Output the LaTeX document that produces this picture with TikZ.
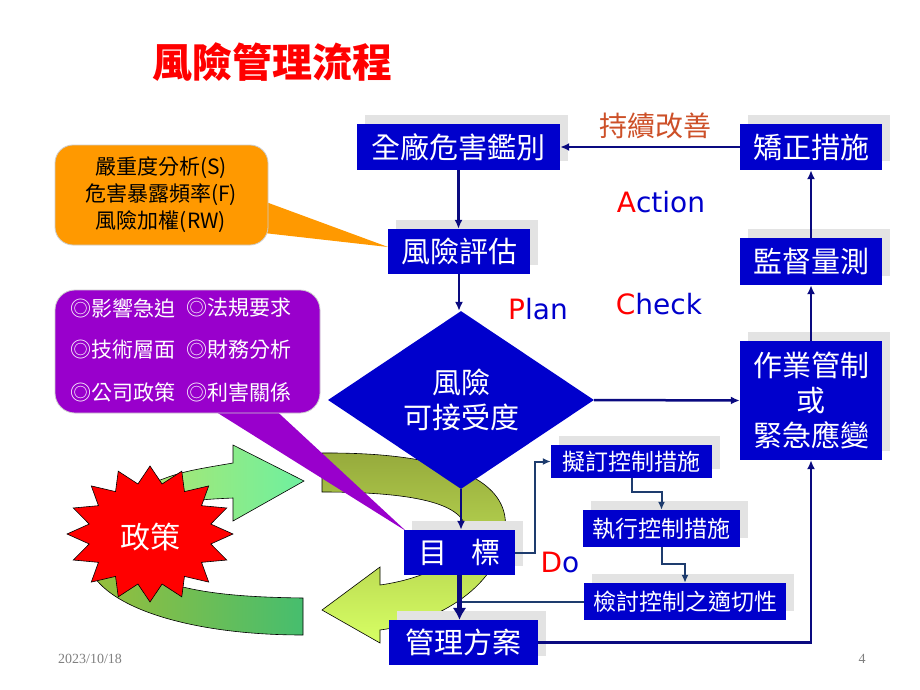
\documentclass[tikz,border=0pt]{standalone}
\usepackage{fontspec}
\newfontfamily\cjk{Noto Sans CJK TC}
\newfontfamily\lat{DejaVu Sans}
\newfontfamily\ser{Liberation Serif}
\usetikzlibrary{shapes.geometric,arrows.meta,shadows}
\definecolor{boxblue}{RGB}{0,0,204}
\definecolor{navy}{RGB}{10,10,128}
\definecolor{ctlblue}{RGB}{30,60,110}
\definecolor{orangeF}{RGB}{255,153,0}
\definecolor{purpleF}{RGB}{153,0,204}
\definecolor{rust}{RGB}{205,80,40}
\definecolor{pdred}{RGB}{255,0,0}
\definecolor{pdblue}{RGB}{0,0,204}
\definecolor{gMintL}{RGB}{175,230,110}
\definecolor{gMintR}{RGB}{110,240,160}
\definecolor{gOlive}{RGB}{150,170,60}
\definecolor{gMid}{RGB}{70,185,115}
\definecolor{gYel}{RGB}{215,255,100}
\definecolor{gLowL}{RGB}{150,190,60}
\definecolor{gLowR}{RGB}{70,190,110}
\begin{document}
\begin{tikzpicture}[x=1pt,y=-1pt,
  bbox/.style={fill=boxblue, text=white, inner sep=0pt, align=center,
    general shadow={fill=gray!22, shadow xshift=8pt, shadow yshift=9pt},
    font=\cjk\fontsize{29}{35}\selectfont},
  cbox/.style={bbox, font=\cjk\fontsize{23}{28}\selectfont},
  flow/.style={draw=navy, line width=2.5pt, -{Latex[length=9pt,width=8pt]}},
  thick flow/.style={draw=navy, line width=4.5pt, -{Latex[length=12pt,width=14pt]}},
  ctl/.style={draw=ctlblue, line width=2pt, -{Latex[length=8pt,width=7pt]}},
  ctlplain/.style={draw=ctlblue, line width=2pt},
  pdca/.style={font=\lat\fontsize{28}{32}\selectfont, text=pdblue},
  ctext/.style={font=\cjk\fontsize{21}{26}\selectfont, text=white, anchor=west, inner sep=0pt},
  otext/.style={font=\cjk\fontsize{21}{27}\selectfont, text=black, align=center, inner sep=0pt}
]
\useasboundingbox (0,0) rectangle (920,690);
\fill[white] (0,0) rectangle (920,690);

% title
\node (title) [font=\cjk\bfseries\fontsize{40}{44}\selectfont, text=red] at (272,62) {風險管理流程};

% green arrows
\shade[left color=gMintL, right color=gMintR, draw=black, line width=0.6pt]
  (140,488) .. controls (180,472) .. (233,463) -- (233,445) -- (304,481) -- (233,521)
  -- (233,498) .. controls (190,500) .. (150,518) -- cycle;
\shade[top color=gOlive, middle color=gMid, bottom color=gYel, draw=black, line width=0.6pt]
  (322,453) .. controls (470,452) and (510,490) .. (505,530)
  .. controls (500,585) and (440,622) .. (380,630) -- (380,643) -- (322,610) -- (380,567)
  -- (380,585) .. controls (430,578) and (468,556) .. (466,530)
  .. controls (464,505) and (420,492) .. (322,492) -- cycle;
\shade[left color=gLowL, right color=gLowR, draw=black, line width=0.6pt]
  (303,598) .. controls (230,597) and (170,592) .. (130,565)
  -- (95,578) .. controls (120,612) and (200,635) .. (303,635) -- cycle;

% star
\fill[red, draw=black, line width=0.6pt] plot[samples=33, domain=0:32]
  ({150+(83-21*mod(round(\x),2))*cos(\x*11.25)}, {534+(68-17*mod(round(\x),2))*sin(\x*11.25)}) -- cycle;
\node (policy) [font=\cjk\fontsize{30}{34}\selectfont, text=white] at (150,537) {政策};

% orange callout
\fill[orangeF] (255,198) -- (388,247) -- (255,232) -- cycle;
\fill[orangeF, draw=gray!40, line width=0.8pt, rounded corners=18pt] (55,145) rectangle (268,245);
\node (oc) [otext] at (161,195) {嚴重度分析(S)\\危害暴露頻率(F)\\風險加權(RW)};

% purple callout
\fill[purpleF] (205,405) -- (406,531) -- (270,405) -- cycle;
\fill[purpleF, draw=gray!40, line width=0.8pt, rounded corners=20pt] (55,290) rectangle (320,413);
\node (p1) [ctext] at (70,308) {◎影響急迫};
\node (p2) [ctext] at (186,308) {◎法規要求};
\node (p3) [ctext] at (70,350) {◎技術層面};
\node (p4) [ctext] at (186,350) {◎財務分析};
\node (p5) [ctext] at (70,392) {◎公司政策};
\node (p6) [ctext] at (186,392) {◎利害關係};

% main boxes
\node (n1) [bbox, minimum width=203pt, minimum height=45pt] at (458.5,147) {全廠危害鑑別};
\node (n2) [bbox, minimum width=142pt, minimum height=45pt] at (459,251.5) {風險評估};
\node (dia) [diamond, fill=boxblue, text=white, inner sep=0pt, align=center,
  minimum width=266pt, minimum height=155pt,
  font=\cjk\fontsize{29}{35}\selectfont] at (461,400) {風險\\可接受度};
\node (n3) [bbox, minimum width=111pt, minimum height=45pt] at (459.5,552.5) {目\hspace{0.8em}標};
\node (n4) [bbox, minimum width=149pt, minimum height=45pt] at (463.5,642.5) {管理方案};
\node (c1) [cbox, minimum width=161pt, minimum height=33pt] at (631.5,461.5) {擬訂控制措施};
\node (c2) [cbox, minimum width=157pt, minimum height=37pt] at (661.5,528.5) {執行控制措施};
\node (c3) [cbox, minimum width=202pt, minimum height=37pt] at (685,601.5) {檢討控制之適切性};
\node (r1) [bbox, minimum width=142pt, minimum height=119pt] at (811,400.5) {作業管制\\或\\緊急應變};
\node (r2) [bbox, minimum width=142pt, minimum height=47pt] at (811,261.5) {監督量測};
\node (r3) [bbox, minimum width=142pt, minimum height=46pt] at (811,147) {矯正措施};

% labels
\node (ci) [font=\cjk\fontsize{28}{32}\selectfont, text=rust] at (655,126) {持續改善};
\node (act) [pdca] at (661,202) {\textcolor{pdred}{A}ction};
\node (chk) [pdca] at (659,304) {\textcolor{pdred}{C}heck};
\node (pln) [pdca] at (538,309) {\textcolor{pdred}{P}lan};
\node (don) [pdca] at (560,562) {\textcolor{pdred}{D}o};

% connectors
\draw[flow] (n1.south) -- (n1.south |- n2.north);
\draw[flow] (n2.south) -- (n2.south |- dia.north);
\draw[flow] (dia.south) -- (dia.south |- n3.north);
\draw[flow] (dia.east) -- (r1.west);
\draw[flow] (r1.north) -- (r2.south);
\draw[flow] (r2.north) -- (r3.south);
\draw[flow] (r3.west) -- (n1.east);
\draw[ctl] (n3.east) -- ++(20,0) |- (c1.west);
\draw[ctl] (c1.south) -- ++(0,14) -| (c2.north);
\draw[ctl] (c2.south) -- ++(0,17) -| (c3.north);
\draw[ctlplain] (c3.west) -- (c3.west -| n3.south);
\draw[thick flow] (n3.south) -- (n3.south |- n4.north);
\draw[flow] (n4.east) -| (r1.south);

% footer
\node (date) [font=\ser\fontsize{14}{16}\selectfont, text=gray] at (90,659) {2023/10/18};
\node (pg) [font=\ser\fontsize{14}{16}\selectfont, text=gray] at (862,659) {4};
\end{tikzpicture}
\end{document}
